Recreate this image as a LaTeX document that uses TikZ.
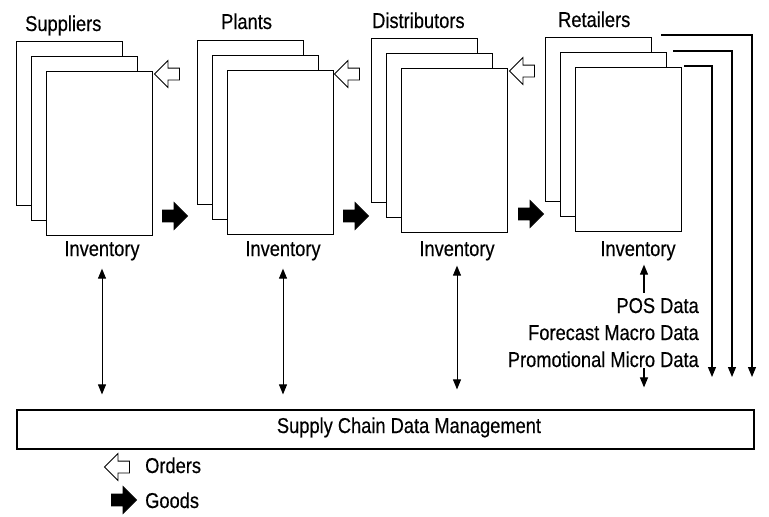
\documentclass[tikz,border=0pt]{standalone}
\usepackage{fontspec}
\setmainfont{Liberation Sans}[FakeStretch=0.85,FakeBold=0.4]
\usetikzlibrary{arrows.meta,calc,shapes.arrows}

\begin{document}
\begin{tikzpicture}[x=1pt, y=-1pt,
  >={Triangle[length=10pt,width=8pt]},
  sheet/.style={draw, fill=white, line width=1.2pt, minimum width=106pt, minimum height=164pt, inner sep=0, anchor=north west},
  lbl/.style={font=\fontsize{21.5}{25}\selectfont, inner sep=0},
  goods/.style={single arrow, draw, fill=black, line width=0.8pt, minimum height=25pt, inner xsep=0, inner ysep=5.5pt, single arrow head extend=7.5pt},
  orders/.style={goods, fill=white, shape border rotate=180},
  link/.style={<->, line width=1pt},
  feed/.style={->, line width=1.1pt},
]
\useasboundingbox (0,0) rectangle (769,517);

% stacks of sheets, back to front
\node[sheet] (sup1) at (16,41) {};
\node[sheet] (sup2) at (31,56) {};
\node[sheet] (sup3) at (46,71) {};
\node[sheet] (pl1) at (197,40) {};
\node[sheet] (pl2) at (212,55) {};
\node[sheet] (pl3) at (227,70) {};
\node[sheet] (dis1) at (371,38) {};
\node[sheet] (dis2) at (386,53) {};
\node[sheet] (dis3) at (401,68) {};
\node[sheet] (ret1) at (545,37) {};
\node[sheet] (ret2) at (560,52) {};
\node[sheet] (ret3) at (575,67) {};

\node[lbl, anchor=base west] (suppliers) at (25,31) {Suppliers};
\node[lbl, anchor=base west] (plants) at (221,29) {Plants};
\node[lbl, anchor=base west] (distributors) at (372,28) {Distributors};
\node[lbl, anchor=base west] (retailers) at (558,27) {Retailers};

% orders go upstream, goods downstream
\node[orders] (ord1) at (170,74) {};
\node[orders] (ord2) at (350,74) {};
\node[orders] (ord3) at (525,71) {};
\node[goods] (gd1) at (172,216) {};
\node[goods] (gd2) at (353,216) {};
\node[goods] (gd3) at (528,214) {};

\node[lbl, anchor=base] (inv1) at (102,256) {Inventory};
\node[lbl, anchor=base] (inv2) at (283,256) {Inventory};
\node[lbl, anchor=base] (inv3) at (457,256) {Inventory};
\node[lbl, anchor=base] (inv4) at (638,256) {Inventory};

\node[draw, line width=1.2pt, minimum width=737pt, minimum height=39pt] (scdm) at (385.5,429.5) {};
\node[lbl, anchor=base] (scdmtext) at (409,433) {Supply Chain Data Management};

\draw[link] ($(inv1.south)+(0,8)$) -- ($(scdm.north -| inv1.south)+(0,-15)$);
\draw[link] ($(inv2.south)+(0,8)$) -- ($(scdm.north -| inv2.south)+(0,-15)$);
\draw[link] ($(inv3.south)+(0,5)$) -- ($(scdm.north -| inv3.south)+(0,-20)$);

% retailer data
\node[lbl, anchor=base east] (pos) at (699,313) {POS Data};
\node[lbl, anchor=base east] (fcst) at (699,340) {Forecast Macro Data};
\node[lbl, anchor=base east] (promo) at (699,367) {Promotional Micro Data};

\draw[feed] ($(pos.north -| inv4.south)+(6,-5)$) -- ($(inv4.south)+(6,4)$);
\draw[feed] ($(promo.south -| inv4.south)+(6,1)$) -- ($(scdm.north -| inv4.south)+(6,-22)$);

\coordinate (tip1) at (752,377);
\coordinate (tip2) at (732,377);
\coordinate (tip3) at (712,377);
\draw[feed] ($(ret1.north east)+(9,-2)$) -| (tip1);
\draw[feed] ($(ret2.north east)+(6,-1)$) -| (tip2);
\draw[feed] ($(ret3.north east)+(2,-1)$) -| (tip3);

% legend
\node[orders] (legord) at (120,467) {};
\node[lbl, anchor=base west] (ordtxt) at (145,473) {Orders};
\node[goods] (leggd) at (121,500) {};
\node[lbl, anchor=base west] (gdtxt) at (145,508) {Goods};

\end{tikzpicture}
\end{document}
